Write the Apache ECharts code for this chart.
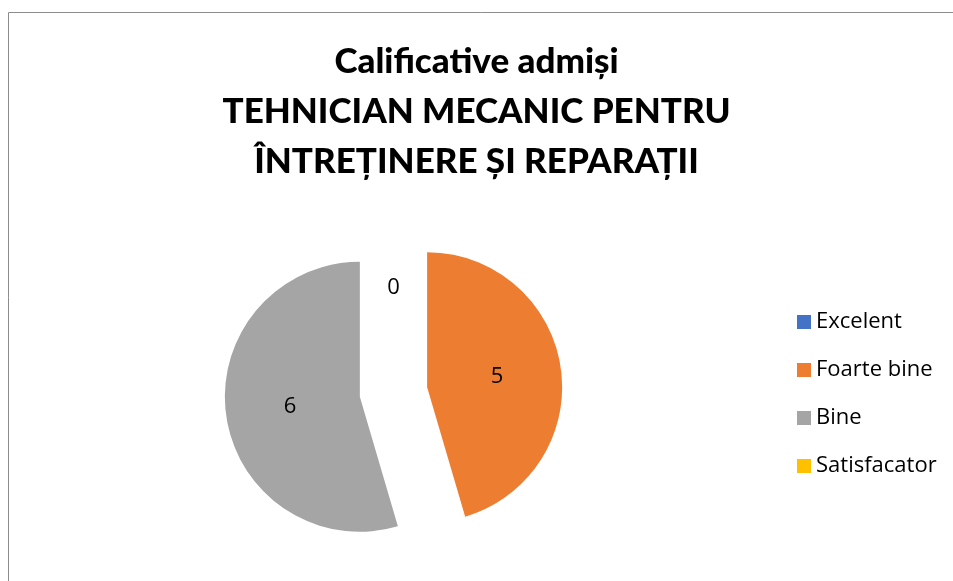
<!DOCTYPE html>
<html>
<head>
<meta charset="utf-8">
<script src="https://cdn.jsdelivr.net/npm/echarts@6/dist/echarts.min.js"></script>
<style>
  html, body { margin: 0; padding: 0; background: #fff; }
  #chart { width: 953px; height: 581px; }
</style>
</head>
<body>
<div id="chart"></div>
<script>
const titleLines = ['Calificative admiși', 'TEHNICIAN MECANIC PENTRU', 'ÎNTREȚINERE ȘI REPARAȚII'];
const categories = ['Excelent', 'Foarte bine', 'Bine', 'Satisfacator'];
const values = [0, 5, 6, 0];
const colors = ['#4472C4', '#ED7D31', '#A5A5A5', '#FFC000'];

const titleFont = 'Lato';
const bodyFont = 'Open Sans';

const option = {
    color: colors,
    graphic: [{
        type: 'rect',
        shape: { x: 8.5, y: 12.5, width: 1000, height: 1000 },
        style: { fill: 'none', stroke: '#8c8c8c', lineWidth: 1 },
        silent: true,
    }],
    title: {
        text: titleLines.join('\n'),
        left: 'center',
        top: 32,
        textStyle: {
            fontFamily: titleFont,
            fontWeight: 900,
            fontSize: 35,
            lineHeight: 50,
            color: '#000',
        },
    },
    legend: {
        orient: 'vertical',
        left: 792,
        top: 306,
        itemWidth: 14,
        itemHeight: 14,
        itemGap: 26,
        icon: 'rect',
        data: categories,
        textStyle: {
            fontFamily: bodyFont,
            fontSize: 22,
            color: '#000',
        },
    },
    series: [{
        type: 'pie',
        center: [393.5, 392],
        radius: 135,
        startAngle: 90,
        clockwise: true,
        selectedMode: 'multiple',
        selectedOffset: 34,
        animation: false,
        label: {
            show: true,
            position: 'inside',
            formatter: '{c}',
            fontFamily: bodyFont,
            fontSize: 22,
            color: '#000',
        },
        labelLine: { show: false },
        emphasis: { disabled: true },
        itemStyle: { borderWidth: 0 },
        data: categories.map((name, i) => ({ name: name, value: values[i], selected: true })),
    }],
};

const chart = echarts.init(document.getElementById('chart'));
chart.setOption(option);
</script>
</body>
</html>
